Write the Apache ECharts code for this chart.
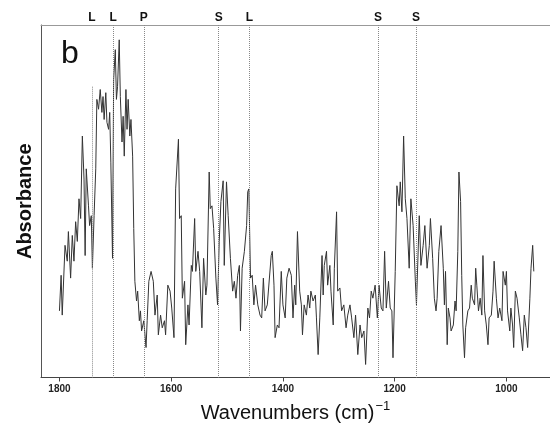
<!DOCTYPE html>
<html>
<head>
<meta charset="utf-8">
<script src="https://cdn.jsdelivr.net/npm/echarts@6/dist/echarts.min.js"></script>
<style>
  html, body { margin: 0; padding: 0; background: #fff; }
  #chart { width: 550px; height: 428px; }
</style>
</head>
<body>
<div id="chart"></div>
<script>
// Spectrum (wavenumber in cm-1, absorbance in arbitrary units)
const wavenumbers = [
  1800, 1797, 1795, 1790, 1786, 1784, 1780, 1777, 1774, 1771, 1768, 1765, 1762, 1759, 1756, 1754, 1752, 1748, 1746, 1743,
  1741, 1738, 1735, 1733, 1730, 1727, 1724, 1722, 1720, 1717, 1715, 1712, 1710, 1708, 1705, 1703, 1700, 1698, 1696, 1693,
  1691, 1688, 1686, 1684, 1681, 1679, 1677, 1674, 1672, 1669, 1667, 1665, 1662, 1660, 1657, 1655, 1653, 1649, 1645, 1643,
  1640, 1636, 1632, 1629, 1625, 1623, 1619, 1616, 1612, 1610, 1606, 1602, 1599, 1595, 1592, 1587, 1585, 1582, 1580, 1576,
  1574, 1570, 1568, 1564, 1562, 1558, 1556, 1552, 1549, 1545, 1542, 1538, 1536, 1532, 1530, 1527, 1524, 1520, 1517, 1514,
  1511, 1507, 1505, 1501, 1498, 1494, 1490, 1487, 1484, 1481, 1478, 1476, 1473, 1469, 1465, 1463, 1461, 1458, 1455, 1452,
  1449, 1445, 1441, 1438, 1435, 1432, 1428, 1425, 1421, 1419, 1416, 1414, 1410, 1407, 1403, 1400, 1396, 1393, 1389, 1385,
  1382, 1379, 1377, 1374, 1370, 1367, 1365, 1362, 1358, 1355, 1352, 1350, 1346, 1342, 1340, 1337, 1334, 1330, 1328, 1326,
  1322, 1320, 1316, 1314, 1310, 1308, 1304, 1302, 1298, 1295, 1291, 1287, 1284, 1280, 1277, 1273, 1270, 1266, 1262, 1259,
  1255, 1252, 1248, 1245, 1242, 1239, 1235, 1231, 1228, 1224, 1221, 1218, 1215, 1211, 1208, 1205, 1203, 1199, 1196, 1192,
  1190, 1187, 1184, 1181, 1178, 1174, 1171, 1167, 1163, 1161, 1156, 1153, 1149, 1146, 1142, 1138, 1136, 1132, 1129, 1126,
  1124, 1121, 1117, 1113, 1111, 1109, 1106, 1104, 1101, 1099, 1095, 1092, 1090, 1087, 1085, 1082, 1080, 1078, 1075, 1073,
  1069, 1066, 1063, 1061, 1057, 1055, 1053, 1050, 1047, 1044, 1042, 1039, 1036, 1033, 1031, 1027, 1024, 1022, 1018, 1015,
  1012, 1008, 1006, 1002, 1000, 998, 994, 992, 989, 987, 984, 981, 977, 974, 971, 968, 965, 962, 958, 956,
  953, 951
];
const absorbance = [
  18.9, 29.0, 17.7, 37.5, 33.0, 41.4, 28.2, 40.3, 33.0, 44.2, 38.6, 50.7, 45.1, 68.5, 56.3, 34.6, 59.2, 48.7, 43.1, 45.9,
  31.0, 45.9, 59.2, 78.9, 76.1, 81.7, 75.2, 79.7, 73.2, 80.8, 72.4, 70.4, 75.2, 61.1, 33.8, 84.5, 93.0, 78.9, 82.5, 95.8,
  79.7, 66.8, 74.1, 62.8, 81.7, 70.4, 78.9, 68.5, 73.2, 62.8, 42.3, 27.3, 21.7, 24.5, 16.1, 18.9, 13.2, 16.1, 8.5, 16.1,
  27.3, 30.1, 27.3, 17.7, 23.4, 12.1, 17.7, 14.1, 16.1, 12.1, 26.2, 24.5, 19.7, 11.3, 53.5, 67.6, 45.1, 45.9, 22.5, 27.3,
  9.3, 20.6, 14.9, 31.8, 30.1, 45.1, 30.1, 35.8, 30.1, 14.1, 33.8, 23.4, 26.2, 58.3, 47.9, 48.7, 42.3, 28.2, 20.6, 38.6,
  49.9, 55.8, 31.8, 55.5, 45.9, 33.8, 24.5, 27.3, 22.5, 29.0, 31.8, 13.2, 31.0, 35.8, 43.1, 52.7, 53.5, 28.2, 29.0, 20.6,
  26.2, 20.6, 17.7, 16.9, 28.2, 18.9, 20.6, 20.6, 34.6, 35.8, 26.2, 11.3, 14.9, 14.1, 30.1, 20.6, 16.9, 28.2, 31.0, 29.0,
  16.9, 26.2, 20.6, 41.4, 24.5, 20.6, 12.1, 20.6, 17.7, 23.4, 19.7, 24.5, 21.7, 23.4, 16.9, 6.5, 16.9, 34.6, 23.4, 31.8,
  35.8, 26.2, 31.8, 24.5, 14.9, 31.0, 47.0, 24.5, 25.4, 18.9, 20.6, 14.1, 17.7, 20.6, 16.9, 11.3, 17.7, 6.5, 14.9, 11.3,
  13.2, 3.7, 19.7, 16.9, 24.5, 22.5, 26.2, 16.9, 26.2, 19.7, 18.9, 35.8, 19.7, 27.3, 19.7, 18.9, 5.6, 30.1, 54.4, 48.7,
  55.5, 47.0, 68.5, 50.7, 45.1, 31.0, 50.7, 43.1, 27.3, 20.6, 45.9, 31.8, 37.5, 43.1, 31.0, 37.5, 45.1, 33.8, 22.5, 18.9,
  22.5, 35.8, 43.1, 31.0, 20.6, 30.1, 9.3, 19.7, 16.9, 13.2, 14.9, 21.7, 18.9, 35.8, 58.3, 49.9, 29.0, 14.9, 5.6, 14.1,
  18.9, 19.7, 26.2, 22.5, 20.6, 31.0, 26.2, 18.9, 22.5, 17.7, 34.6, 18.9, 14.9, 9.3, 16.9, 17.7, 24.5, 33.0, 22.5, 16.9,
  19.7, 16.1, 30.1, 26.2, 30.1, 18.9, 13.2, 19.7, 14.9, 8.5, 24.5, 22.5, 16.9, 12.1, 7.6, 17.7, 14.1, 8.5, 22.5, 31.0,
  37.5, 30.1
];

// Bottom axis ticks
const tickValues = [1800, 1600, 1400, 1200, 1000];

// Band assignments marked along the top
const bandPositions = [1742, 1704, 1649, 1515, 1460, 1230, 1162];
const bandLabels = ["L", "L", "P", "S", "L", "S", "S"];
// The first marker only starts partway down the plot
const bandStarts = [82.5, 100, 100, 100, 100, 100, 100];

const FONT = "Liberation Sans, Arial, sans-serif";
const X_MIN = 922;
const X_MAX = 1833;

const chart = echarts.init(document.getElementById("chart"), null, { renderer: "canvas" });

const bandLookup = {};
bandPositions.forEach((pos, i) => (bandLookup[pos] = bandLabels[i]));

const option = {
  animation: false,
  textStyle: { fontFamily: FONT },
  grid: { left: 41, right: 0, top: 25, bottom: 48 },
  xAxis: [
    {
      type: "value",
      min: X_MIN,
      max: X_MAX,
      inverse: true,
      position: "bottom",
      name: "{a|Wavenumbers (cm)}{sup|\u22121}",
      nameLocation: "middle",
      nameGap: 22,
      nameTextStyle: {
        rich: {
          a: { fontFamily: FONT, fontSize: 20, color: "#111" },
          sup: { fontFamily: FONT, fontSize: 13, color: "#111", padding: [0, 0, 14, 1] },
        },
      },
      axisLine: { show: true, lineStyle: { color: "#444", width: 1 } },
      axisTick: { show: true, length: 4, customValues: tickValues, lineStyle: { color: "#444" } },
      axisLabel: {
        customValues: tickValues,
        formatter: (value) => String(value),
        fontFamily: FONT,
        fontSize: 10,
        fontWeight: "bold",
        color: "#222",
        margin: 7,
      },
      splitLine: { show: false },
    },
    {
      type: "value",
      min: X_MIN,
      max: X_MAX,
      inverse: true,
      position: "top",
      axisLine: { show: true, lineStyle: { color: "#999", width: 1 } },
      axisTick: { show: false },
      axisLabel: {
        customValues: bandPositions,
        formatter: (value) => bandLookup[value] || "",
        fontFamily: FONT,
        fontSize: 12,
        fontWeight: "bold",
        color: "#111",
        margin: 1,
      },
      splitLine: { show: false },
    },
  ],
  yAxis: {
    type: "value",
    min: 0,
    max: 100,
    name: "Absorbance",
    nameLocation: "middle",
    nameGap: 6,
    nameTextStyle: { fontFamily: FONT, fontSize: 20, fontWeight: "bold", color: "#111" },
    axisLine: { show: true, lineStyle: { color: "#555", width: 1 } },
    axisTick: { show: false },
    axisLabel: { show: false },
    splitLine: { show: false },
  },
  graphic: [
    {
      type: "text",
      left: 61,
      top: 38,
      style: { text: "b", font: "32px " + FONT, fill: "#111" },
    },
  ],
  series: [
    {
      type: "line",
      xAxisIndex: 0,
      data: wavenumbers.map((wn, i) => [wn, absorbance[i]]),
      showSymbol: false,
      smooth: false,
      lineStyle: { color: "#333", width: 1 },
      markLine: {
        silent: true,
        symbol: "none",
        label: { show: false },
        lineStyle: { color: "#888", type: "dotted", width: 1 },
        data: bandPositions.map((pos, i) => [
          { coord: [pos, bandStarts[i]] },
          { coord: [pos, 0] },
        ]),
      },
    },
  ],
};

chart.setOption(option);
</script>
</body>
</html>
